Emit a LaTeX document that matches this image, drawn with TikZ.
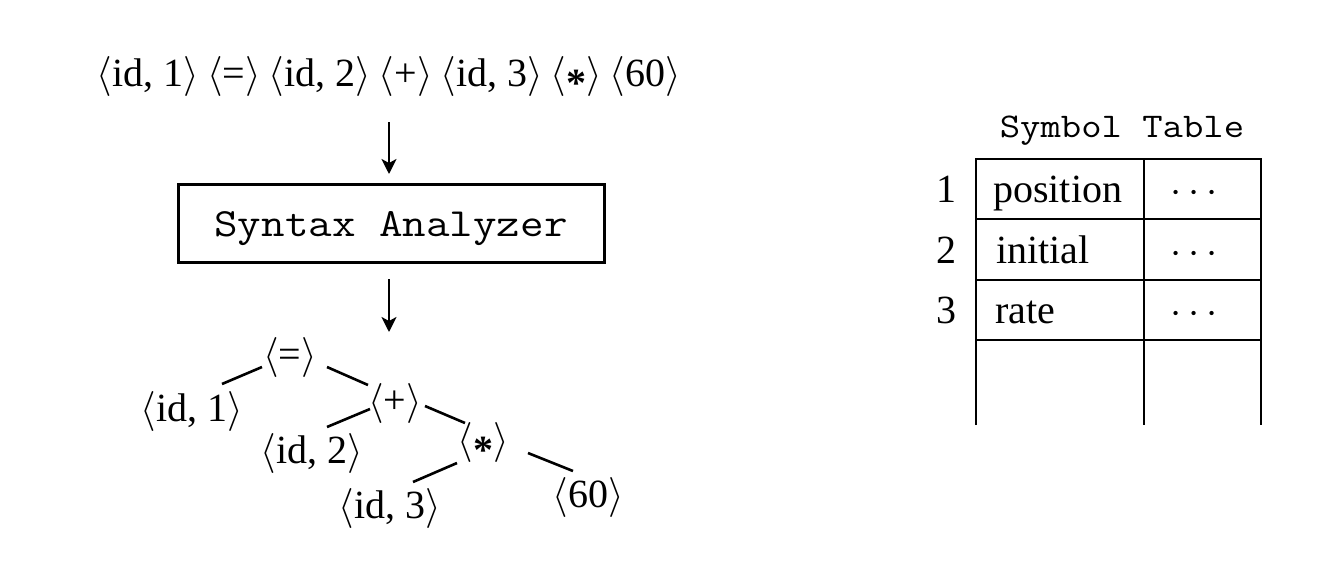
\RequirePackage{fix-cm}
\documentclass[tikz,border=0pt]{standalone}
\usepackage{fontspec}
\setmainfont{Liberation Serif}
\setmonofont{Latin Modern Mono}[FakeStretch=1.143]
\usetikzlibrary{calc,arrows.meta}
\newcommand{\tk}[1]{$\langle$#1$\rangle$}
\newcommand{\tstar}{\raisebox{-0.26em}{\bfseries *}}
\newcommand{\tgap}{\hspace{8pt}}
\begin{document}
\begin{tikzpicture}[x=1pt,y=-1pt,
  txt/.style={inner sep=0pt,font=\fontsize{40}{48}\selectfont},
  edge/.style={line width=2.6pt},
  flow/.style={line width=2.6pt,-{Stealth[length=15pt,width=15pt,inset=4pt]}},
  tbl/.style={line width=1.3pt}]
\useasboundingbox (0,0) rectangle (1328,587);
% token stream
\node[txt,anchor=base] (tokens) at (389,86) {\tk{id, 1}\tgap\tk{=}\tgap\tk{id, 2}\tgap\tk{+}\tgap\tk{id, 3}\tgap\tk{\tstar}\tgap\tk{60}};
% syntax analyzer
\node[draw,line width=3pt,minimum width=426pt,minimum height=78pt,inner sep=0pt] (sa) at (391,223) {};
\node[inner sep=0pt,font=\fontsize{40}{48}\ttfamily,anchor=base] (satext) at (391,236) {Syntax Analyzer};
\coordinate (a1s) at (389,122);
\coordinate (a1e) at (389,174);
\coordinate (a2s) at (389,279);
\coordinate (a2e) at (389,332);
\draw[flow] (a1s) -- (a1e);
\draw[flow] (a2s) -- (a2e);
% tree
\node[txt] (eq) at (290,357) {\tk{=}};
\node[txt] (id1) at (192,411) {\tk{id, 1}};
\node[txt] (plus) at (395,403) {\tk{+}};
\node[txt] (id2) at (312,453) {\tk{id, 2}};
\node[txt] (star) at (483,443) {\tk{\tstar}};
\node[txt] (id3) at (390,508) {\tk{id, 3}};
\node[txt] (sixty) at (588,497) {\tk{60}};
\draw[edge] ($(eq)+(-28,10)$) -- ($(id1)+(30,-27)$);
\draw[edge] ($(eq)+(37,10)$) -- ($(plus)+(-27,-18)$);
\draw[edge] ($(plus)+(-25,6)$) -- ($(id2)+(15,-26)$);
\draw[edge] ($(plus)+(30,3)$) -- ($(star)+(-18,-20)$);
\draw[edge] ($(star)+(-26,20)$) -- ($(id3)+(23,-26)$);
\draw[edge] ($(star)+(45,10)$) -- ($(sixty)+(-15,-26)$);
% symbol table
\node[inner sep=0pt,font=\fontsize{34.6}{40}\ttfamily] (st) at (1122,131) {Symbol Table};
\draw[tbl] (976,425) -- (976,159) -- (1261,159) -- (1261,425);
\draw[tbl] (1144,159) -- (1144,425);
\draw[tbl] (976,219) -- (1261,219);
\draw[tbl] (976,280) -- (1261,280);
\draw[tbl] (976,340) -- (1261,340);
\node[txt,anchor=base] (n1) at (946,202) {1};
\node[txt,anchor=base] (n2) at (946,263) {2};
\node[txt,anchor=base] (n3) at (946,323) {3};
\node[txt,anchor=base west] (r1) at (993,202) {position};
\node[txt,anchor=base west] (r2) at (996,263) {initial};
\node[txt,anchor=base west] (r3) at (995,323) {rate};
\node[txt,anchor=base] (d1) at (1194,202) {$\cdots$};
\node[txt,anchor=base] (d2) at (1194,263) {$\cdots$};
\node[txt,anchor=base] (d3) at (1194,323) {$\cdots$};
\end{tikzpicture}
\end{document}
